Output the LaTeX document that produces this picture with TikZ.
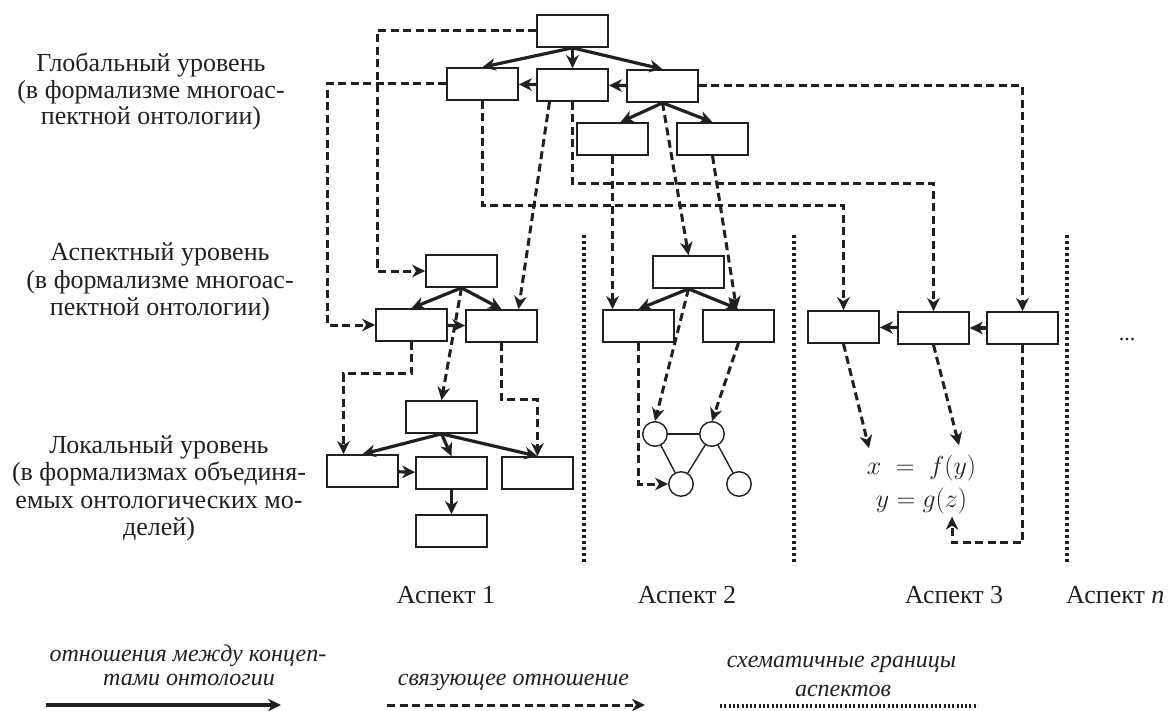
\documentclass[tikz,border=0pt]{standalone}
\usepackage{fix-cm}
\usepackage{fontspec}
\setmainfont{Liberation Serif}
\usetikzlibrary{arrows.meta,calc}
\definecolor{ink}{RGB}{35,31,32}
\begin{document}
\begin{tikzpicture}[x=1pt,y=-1pt,
  box/.style={draw=ink,line width=1.7pt,minimum width=71pt,minimum height=32pt,inner sep=0pt,fill=white},
  vertex/.style={draw=ink,line width=1.4pt,circle,minimum size=24.5pt,inner sep=0pt,fill=white},
  edge/.style={draw=ink,line width=1.4pt},
  rel/.style={draw=ink,line width=3.2pt,-{Stealth[length=13pt,width=12.5pt,inset=4pt]}},
  link/.style={draw=ink,line width=3pt,dash pattern=on 8pt off 4.5pt,-{Stealth[length=13pt,width=12.5pt,inset=4pt]}},
  border/.style={draw=ink,line width=4pt,dash pattern=on 3.4pt off 2.6pt},
  lvl/.style={font=\fontsize{26}{27.5}\selectfont,anchor=base,inner sep=0pt,text=ink},
  aspect/.style={font=\fontsize{26}{30}\selectfont,anchor=base,inner sep=0pt,text=ink},
  legend/.style={font=\fontsize{24}{24}\selectfont\itshape,anchor=base,inner sep=0pt,text=ink},
  formula/.style={font=\fontsize{26}{33}\selectfont,align=center,inner sep=3pt,text=ink}
]
\useasboundingbox (0,0) rectangle (1169,711);

% ---- global level ----
\node[box] (T)  at (572.5,31) {};
\node[box] (G1) at (482.5,84) {};
\node[box] (G2) at (572.5,85) {};
\node[box] (G3) at (662.5,86) {};
\node[box] (G4) at (612.5,139) {};
\node[box] (G5) at (712.5,139) {};

% ---- aspect 1 ----
\node[box] (A0) at (461.5,271) {};
\node[box] (A1) at (411.5,325) {};
\node[box] (A2) at (501.5,326) {};
\node[box] (D0) at (441.5,417) {};
\node[box] (D1) at (362.5,471) {};
\node[box] (D2) at (451.5,473) {};
\node[box] (D3) at (537.5,473) {};
\node[box] (D4) at (451.5,531) {};

% ---- aspect 2 ----
\node[box] (C0) at (688.5,272) {};
\node[box] (C1) at (638.5,326) {};
\node[box] (C2) at (738.5,326) {};
\node[vertex] (v1) at (655,434) {};
\node[vertex] (v2) at (712,434) {};
\node[vertex] (v3) at (681,484) {};
\node[vertex] (v4) at (739,484) {};
\draw[edge] (v1) -- (v2);
\draw[edge] (v1) -- (v3);
\draw[edge] (v2) -- (v3);
\draw[edge] (v2) -- (v4);

% ---- aspect 3 ----
\node[box] (B1) at (843.5,327) {};
\node[box] (B2) at (933.5,328) {};
\node[box] (B3) at (1022.5,328) {};
\node[formula] (F) at (921.5,484) {$x\;=\;f(y)$\\$y=g(z)$};
\node[font=\fontsize{22}{22}\selectfont,anchor=base,inner sep=0pt,text=ink] (more) at (1127,340) {...};

% ---- relations between concepts ----
\draw[rel] (T.south) -- (G1.north);
\draw[rel] (T.south) -- (G2.north);
\draw[rel] (T.south) -- (G3.north);
\draw[rel] (G2) -- (G1);
\draw[rel] (G3) -- (G2);
\draw[rel] (G3.south) -- ([xshift=8pt]G4.north);
\draw[rel] (G3.south) -- (G5.north);
\draw[rel] (A0.south) -- (A1.north);
\draw[rel] (A0.south) -- (A2.north);
\draw[rel] (A1) -- (A2);
\draw[rel] (D0.south) -- (D1.north);
\draw[rel] (D0.south) -- (D2.north);
\draw[rel] (D0.south) -- (D3.north);
\draw[rel] (D1) -- (D2);
\draw[rel] (D2) -- (D4);
\draw[rel] (C0.south) -- (C1.north);
\draw[rel] (C0.south) -- (C2.north);
\draw[rel] (B3) -- (B2);
\draw[rel] (B2) -- (B1);

% ---- binding relations ----
\draw[link] (T.west) -- ++(-159,0) |- (A0.west);
\draw[link] (G1.west) -- ++(-119,0) |- (A1.west);
\draw[link] (G1.south) -- ++(0,105) -| (B1.north);
\draw[link] (G2.south) -- ++(0,82) -| (B2.north);
\draw[link] ([xshift=-23pt]G2.south) -- ([xshift=17pt]A2.north);
\draw[link] (G3.east) -| (B3.north);
\draw[link] (G3.south) -- (C0.north);
\draw[link] (G4.south) -- (G4.south |- C1.north);
\draw[link] (G5.south) -- ([xshift=-2pt]C2.north);
\draw[link] (A0.south) -- (D0.north);
\draw[link] (A1.south) -- ++(0,32) -| ([xshift=-19pt]D1.north);
\draw[link] (A2.south) -- ++(0,57) -| (D3.north);
\draw[link] (C0.south) -- (v1.north);
\draw[link] (C2.south) -- (v2.north);
\draw[link] (C1.south) |- (v3.west);
\draw[link] (B1.south) -- ([xshift=-52.5pt,yshift=3pt]F.north);
\draw[link] (B2.south) -- ([xshift=37.5pt,yshift=6pt]F.north);
\draw[link] (B3.south) -- ++(0,198) -| ([xshift=30.5pt]F.south);

% ---- aspect borders ----
\draw[border] (584.3,235) -- (584.3,565);
\draw[border] (793.5,235) -- (793.5,565);
\draw[border] (1066.7,235) -- (1066.7,565);

% ---- level captions ----
\node[lvl] (g1) at (151,71.7) {Глобальный уровень};
\node[lvl] (g2) at (151,98.3) {(в формализме многоас-};
\node[lvl] (g3) at (151,125) {пектной онтологии)};
\node[lvl] (a1) at (160,261) {Аспектный уровень};
\node[lvl] (a2) at (160,288) {(в формализме многоас-};
\node[lvl] (a3) at (160,315) {пектной онтологии)};
\node[lvl] (l1) at (159,453) {Локальный уровень};
\node[lvl] (l2) at (159,480.5) {(в формализмах объединя-};
\node[lvl] (l3) at (159,508) {емых онтологических мо-};
\node[lvl] (l4) at (159,535.5) {делей)};

% ---- aspect captions ----
\node[aspect] (asp1) at (446,603) {Аспект 1};
\node[aspect] (asp2) at (687,603) {Аспект 2};
\node[aspect] (asp3) at (954,603) {Аспект 3};
\node[aspect,anchor=base west] (aspn) at (1066,603) {Аспект \textit{n}};

% ---- legend ----
\node[legend] (k1) at (188,661.7) {отношения между концеп-};
\node[legend] (k2) at (189,685) {тами онтологии};
\node[legend] (k3) at (513.5,685) {связующее отношение};
\node[legend] (k4) at (841.5,667) {схематичные границы};
\node[legend] (k5) at (843,696.7) {аспектов};
\coordinate (s0) at (46,705);
\coordinate (s1) at (281,705);
\coordinate (d0) at (387,705);
\coordinate (d1) at (645,705);
\coordinate (b0) at (720,706);
\coordinate (b1) at (978,706);
\draw[rel] (s0) -- (s1);
\draw[link] (d0) -- (d1);
\draw[border,line width=3.5pt,dash pattern=on 2pt off 2.3pt] (b0) -- (b1);
\end{tikzpicture}
\end{document}
